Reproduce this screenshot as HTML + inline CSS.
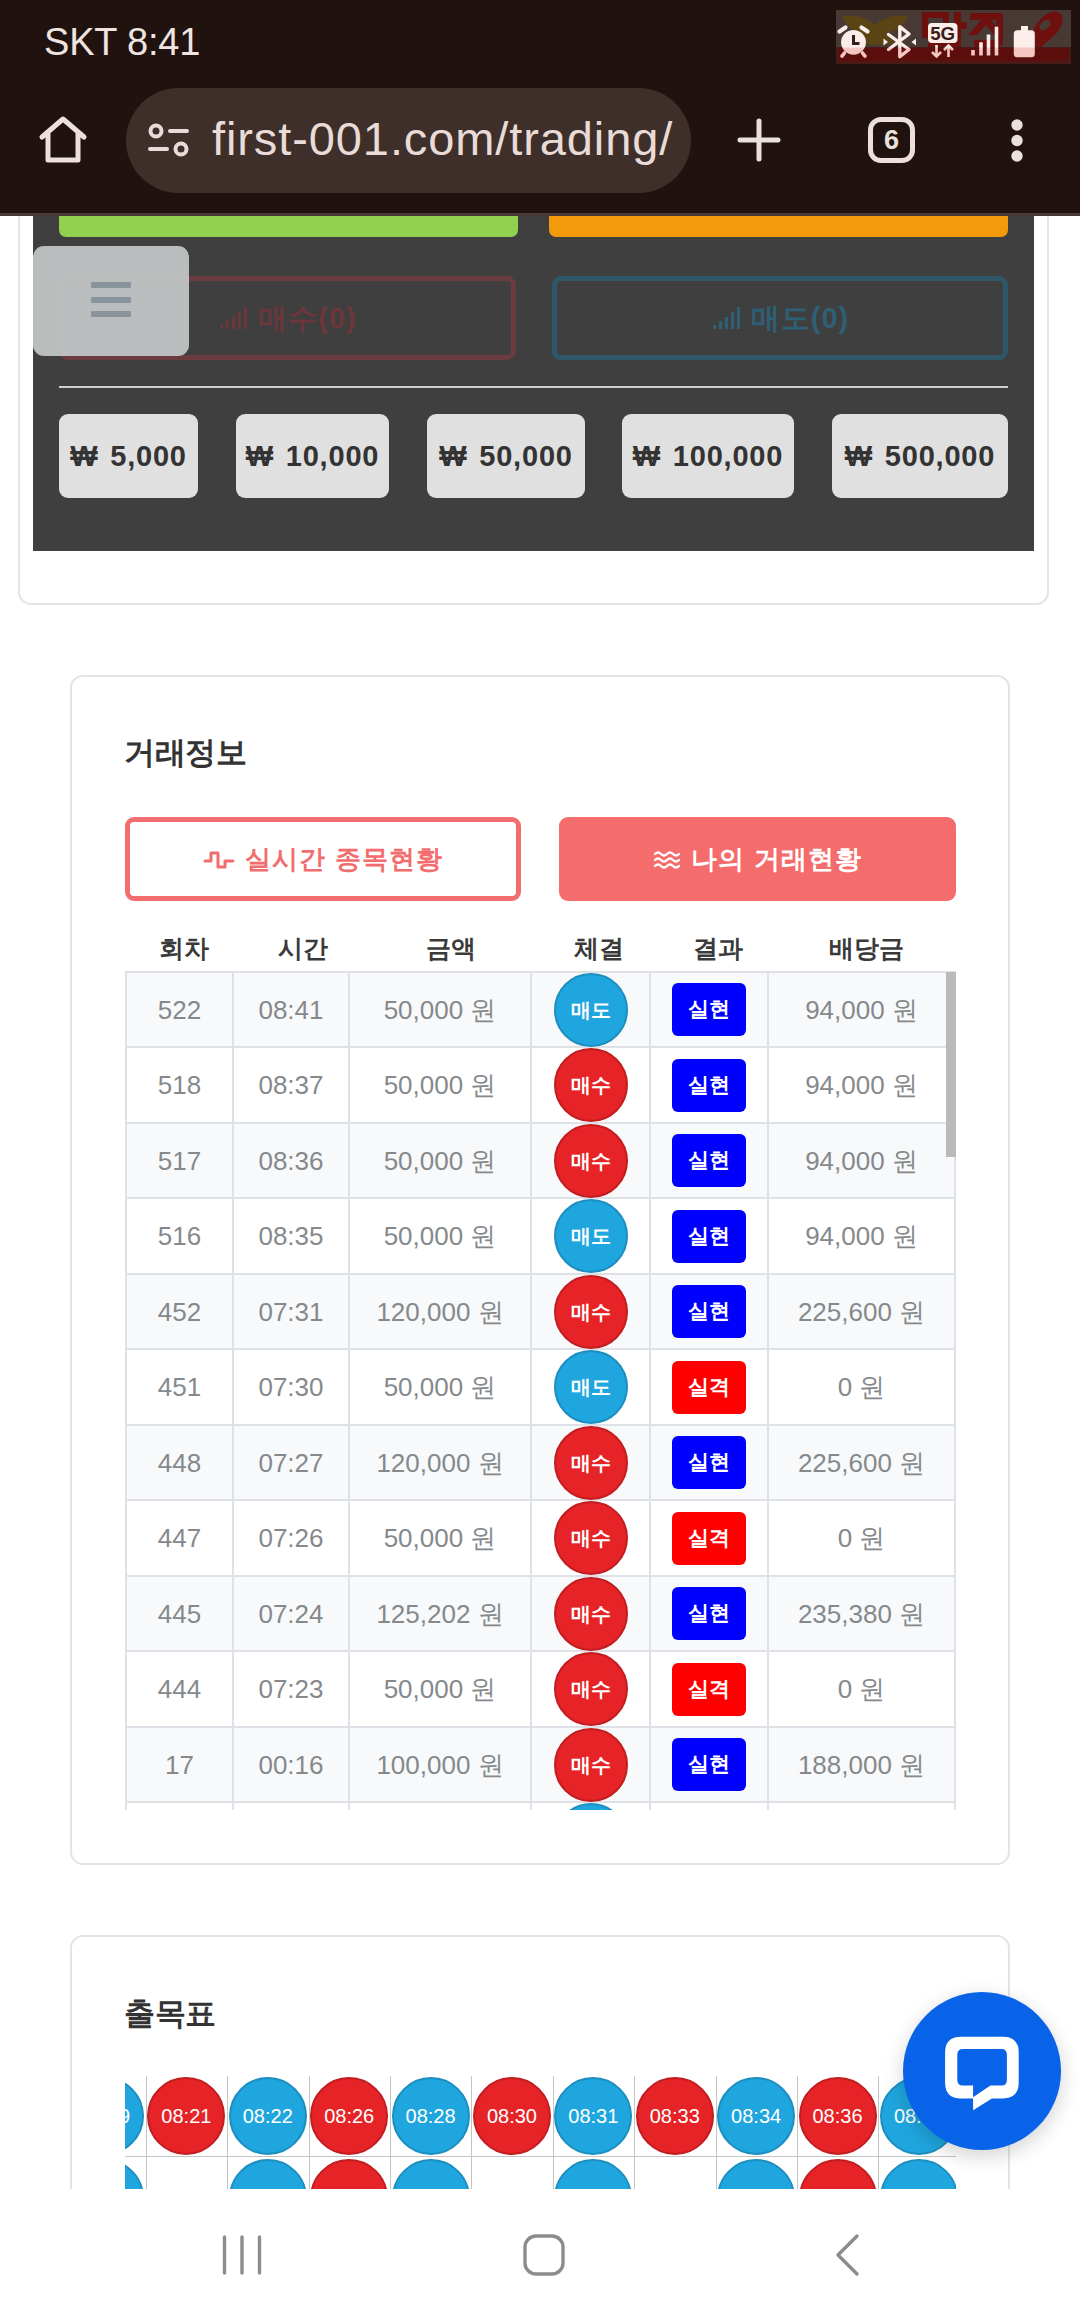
<!DOCTYPE html>
<html lang="ko">
<head>
<meta charset="utf-8">
<title>first-001.com/trading/</title>
<style>
*{box-sizing:border-box;margin:0;padding:0}
html,body{width:1080px;height:2316px;overflow:hidden;background:#fff}
body{position:relative;font-family:"Liberation Sans",sans-serif;color:#333}
.abs{position:absolute}
/* ---------- browser chrome ---------- */
#chrome{position:absolute;left:0;top:0;width:1080px;height:216px;background:#1f120f;border-bottom:3px solid #483936;z-index:20}
#clock{position:absolute;left:44px;top:19px;font-size:38px;line-height:46px;color:#efe4e0;letter-spacing:-0.2px}
#pill{position:absolute;left:126px;top:88px;width:565px;height:105px;border-radius:53px;background:#3f2f2b}
#url{position:absolute;left:212px;top:110px;font-size:47px;line-height:58px;color:#e9dcd8;white-space:nowrap;letter-spacing:0.9px}
#tabn{position:absolute;left:868px;top:117px;width:47px;height:46px;border:5px solid #ece0dc;border-radius:13px;color:#ece0dc;font-weight:bold;font-size:27px;line-height:36px;text-align:center}
#wm{position:absolute;left:836px;top:10px;width:235px;height:54px;overflow:hidden}
/* ---------- page ---------- */
#page{position:absolute;left:0;top:215px;width:1080px;height:1974px;overflow:hidden;background:#fff}
.card{position:absolute;border:2px solid #e4e4e4;border-radius:13px;background:#fff}
#panel{position:absolute;left:33px;top:-20px;width:1001px;height:356px;background:#3f3f3f}
.amt{position:absolute;top:199px;height:84px;border-radius:9px;background:#e0e0e0;color:#333;font-weight:bold;font-size:29px;line-height:84px;text-align:center;white-space:nowrap;letter-spacing:0.8px;word-spacing:3px}
.obtn{position:absolute;top:81px;height:84px;border:5px solid;border-radius:9px;font-weight:bold;font-size:29px;line-height:74px;text-align:center;letter-spacing:1px}
#ham{position:absolute;left:33px;top:31px;width:156px;height:110px;border-radius:11px;background:rgba(196,199,199,.93)}
#ham i{position:absolute;left:58px;width:40px;height:6px;border-radius:1px;background:#8a949c}
h2{position:absolute;font-size:31px;line-height:40px;font-weight:bold;color:#333;letter-spacing:-0.5px}
.tbtn{position:absolute;top:602px;height:84px;border-radius:9px;font-weight:bold;font-size:26px;line-height:84px;text-align:center;letter-spacing:1px}
.th{position:absolute;top:715px;width:140px;margin-left:-70px;text-align:center;font-size:25px;line-height:36px;color:#3a3a3a;font-weight:600}
#tw{position:absolute;left:125px;top:756px;width:831px;height:839px;overflow:hidden}
table{border-collapse:collapse;table-layout:fixed;width:829px}
td{height:75px;box-sizing:border-box;border:2px solid #dee2e6;text-align:center;vertical-align:middle;font-size:26px;line-height:30px;color:#85898c;padding:0;white-space:nowrap}
tr:nth-child(odd) td{background:#f8f9fa}
tr:nth-child(even) td{height:76px}
.cir{position:relative;top:0;display:block;margin:-1px auto;width:74px;height:74px;border-radius:50%;color:#fff;font-weight:bold;font-size:20px;line-height:70px;vertical-align:middle;border:2px solid}
.sell{background:#1fa6de;border-color:#1c8ec0}
.buy{background:#e62326;border-color:#c21d20}
.bdg{position:relative;top:0;display:block;margin:0 auto;width:74px;height:53px;border-radius:6px;color:#fff;font-weight:bold;font-size:21px;line-height:51px;vertical-align:middle}
.win{background:#0000ff}.lose{background:#ff0000}
#sb{position:absolute;left:946px;top:757px;width:10px;height:185px;background:#bababa}
#gw{position:absolute;left:125px;top:1860.5px;width:831px;height:130px;overflow:hidden}
.grow{position:absolute;left:-59.5px;height:81.5px;width:900px;display:flex}
.gc{width:81.4px;height:81.5px;flex:none;border-right:1px solid #c4c4c4;border-bottom:1px solid #c4c4c4;position:relative}
.gcir{position:absolute;left:0.5px;top:1.5px;width:78px;height:78px;border-radius:50%;border-width:2px;border-style:solid;color:#fff;font-size:20px;line-height:74px;text-align:center}
#chat{position:absolute;left:903px;top:1777px;width:158px;height:158px;border-radius:50%;background:#0863e8;box-shadow:0 6px 20px rgba(0,0,0,.18)}
/* ---------- android nav ---------- */
#nav{position:absolute;left:0;top:2189px;width:1080px;height:127px;background:#fff;z-index:20}
</style>
</head>
<body>

<div id="page">
  <!-- card 1 (top part scrolled away) -->
  <div class="card" style="left:18px;top:-40px;width:1031px;height:430px"></div>
  <div id="panel">
    <div class="abs" style="left:26px;top:0;width:459px;height:42px;background:#92d050;border-radius:0 0 7px 7px"></div>
    <div class="abs" style="left:516px;top:0;width:459px;height:42px;background:#f39a0b;border-radius:0 0 7px 7px"></div>
    <div class="obtn" style="left:26px;width:457px;border-color:#6a3c3f;color:#6c373b;"><svg width="30" height="24" viewBox="0 0 30 24" style="vertical-align:-2px;margin-right:10px"><g fill="#6c373b"><rect x="2" y="19" width="3" height="4"/><rect x="8" y="15" width="3" height="8"/><rect x="14" y="11" width="3" height="12"/><rect x="20" y="6" width="3" height="17"/><rect x="26" y="1" width="3" height="22"/></g></svg>매수(0)</div>
    <div class="obtn" style="left:519px;width:456px;border-color:#2e586a;color:#2e5f75;"><svg width="30" height="24" viewBox="0 0 30 24" style="vertical-align:-2px;margin-right:10px"><g fill="#2e5f75"><rect x="2" y="19" width="3" height="4"/><rect x="8" y="15" width="3" height="8"/><rect x="14" y="11" width="3" height="12"/><rect x="20" y="6" width="3" height="17"/><rect x="26" y="1" width="3" height="22"/></g></svg>매도(0)</div>
    <div class="abs" style="left:26px;top:191px;width:949px;height:2px;background:#cfcfcf"></div>
  </div>
  <div class="amt" style="left:59px;width:139px">₩ 5,000</div>
  <div class="amt" style="left:236px;width:153px">₩ 10,000</div>
  <div class="amt" style="left:427px;width:158px">₩ 50,000</div>
  <div class="amt" style="left:622px;width:172px">₩ 100,000</div>
  <div class="amt" style="left:832px;width:176px">₩ 500,000</div>
  <div id="ham"><i style="top:36px"></i><i style="top:51px"></i><i style="top:65px"></i></div>

  <!-- card 2 : trade info -->
  <div class="card" style="left:70px;top:460px;width:940px;height:1190px"></div>
  <h2 style="left:124px;top:518px">거래정보</h2>
  <div class="tbtn" style="left:125px;width:396px;border:5px solid #f26d6d;color:#f26d6d;line-height:74px"><svg width="32" height="24" viewBox="0 0 32 24" style="vertical-align:-4px;margin-right:10px"><path d="M2 13h6V5h7v14h7v-6h8" fill="none" stroke="#f26d6d" stroke-width="3" stroke-linejoin="round" stroke-linecap="round"/></svg>실시간 종목현황</div>
  <div class="tbtn" style="left:559px;width:397px;background:#f56c6c;color:#fff"><svg width="28" height="22" viewBox="0 0 28 22" style="vertical-align:-3px;margin-right:10px"><g fill="none" stroke="#fff" stroke-width="2.4" stroke-linecap="round"><path d="M2 5q3-3 6 0t6 0 6 0 6 0"/><path d="M2 11q3-3 6 0t6 0 6 0 6 0"/><path d="M2 17q3-3 6 0t6 0 6 0 6 0"/></g></svg>나의 거래현황</div>

  <div class="th" style="left:184px">회차</div>
  <div class="th" style="left:303px">시간</div>
  <div class="th" style="left:451px">금액</div>
  <div class="th" style="left:599px">체결</div>
  <div class="th" style="left:718px">결과</div>
  <div class="th" style="left:866px">배당금</div>

  <div id="tw">
    <table>
      <colgroup><col style="width:107px"><col style="width:116px"><col style="width:182px"><col style="width:119px"><col style="width:118px"><col style="width:187px"></colgroup>
<tr><td>522</td><td>08:41</td><td>50,000 원</td><td class="cc"><span class="cir sell">매도</span></td><td><span class="bdg win">실현</span></td><td>94,000 원</td></tr>
<tr><td>518</td><td>08:37</td><td>50,000 원</td><td class="cc"><span class="cir buy">매수</span></td><td><span class="bdg win">실현</span></td><td>94,000 원</td></tr>
<tr><td>517</td><td>08:36</td><td>50,000 원</td><td class="cc"><span class="cir buy">매수</span></td><td><span class="bdg win">실현</span></td><td>94,000 원</td></tr>
<tr><td>516</td><td>08:35</td><td>50,000 원</td><td class="cc"><span class="cir sell">매도</span></td><td><span class="bdg win">실현</span></td><td>94,000 원</td></tr>
<tr><td>452</td><td>07:31</td><td>120,000 원</td><td class="cc"><span class="cir buy">매수</span></td><td><span class="bdg win">실현</span></td><td>225,600 원</td></tr>
<tr><td>451</td><td>07:30</td><td>50,000 원</td><td class="cc"><span class="cir sell">매도</span></td><td><span class="bdg lose">실격</span></td><td>0 원</td></tr>
<tr><td>448</td><td>07:27</td><td>120,000 원</td><td class="cc"><span class="cir buy">매수</span></td><td><span class="bdg win">실현</span></td><td>225,600 원</td></tr>
<tr><td>447</td><td>07:26</td><td>50,000 원</td><td class="cc"><span class="cir buy">매수</span></td><td><span class="bdg lose">실격</span></td><td>0 원</td></tr>
<tr><td>445</td><td>07:24</td><td>125,202 원</td><td class="cc"><span class="cir buy">매수</span></td><td><span class="bdg win">실현</span></td><td>235,380 원</td></tr>
<tr><td>444</td><td>07:23</td><td>50,000 원</td><td class="cc"><span class="cir buy">매수</span></td><td><span class="bdg lose">실격</span></td><td>0 원</td></tr>
<tr><td>17</td><td>00:16</td><td>100,000 원</td><td class="cc"><span class="cir buy">매수</span></td><td><span class="bdg win">실현</span></td><td>188,000 원</td></tr>
<tr><td>16</td><td>00:15</td><td>50,000 원</td><td class="cc"><span class="cir sell">매도</span></td><td><span class="bdg win">실현</span></td><td>94,000 원</td></tr>
    </table>
  </div>
  <div id="sb"></div>

  <!-- card 3 : history grid -->
  <div class="card" style="left:70px;top:1720px;width:940px;height:400px"></div>
  <h2 style="left:124px;top:1779px">출목표</h2>
  <div id="gw">
    <div class="grow" style="top:0"><div class="gc"><span class="gcir sell">08:19</span></div><div class="gc"><span class="gcir buy">08:21</span></div><div class="gc"><span class="gcir sell">08:22</span></div><div class="gc"><span class="gcir buy">08:26</span></div><div class="gc"><span class="gcir sell">08:28</span></div><div class="gc"><span class="gcir buy">08:30</span></div><div class="gc"><span class="gcir sell">08:31</span></div><div class="gc"><span class="gcir buy">08:33</span></div><div class="gc"><span class="gcir sell">08:34</span></div><div class="gc"><span class="gcir buy">08:36</span></div><div class="gc"><span class="gcir sell">08:37</span></div></div>
    <div class="grow" style="top:81.5px"><div class="gc"><span class="gcir sell">08:20</span></div><div class="gc"></div><div class="gc"><span class="gcir sell">08:23</span></div><div class="gc"><span class="gcir buy">08:27</span></div><div class="gc"><span class="gcir sell">08:29</span></div><div class="gc"></div><div class="gc"><span class="gcir sell">08:32</span></div><div class="gc"></div><div class="gc"><span class="gcir sell">08:35</span></div><div class="gc"><span class="gcir buy">08:38</span></div><div class="gc"><span class="gcir sell">08:39</span></div></div>
  </div>

  <div id="chat"><svg width="158" height="158" viewBox="0 0 158 158"><path d="M58 44.7H100Q115.700 44.7 115.700 60.500V90.500Q115.700 106.500 100 106.500H89L70.100 118.300V106.500H58Q42.100 106.500 42.100 90.500V60.500Q42.100 44.700 58 44.700Z" fill="#fff"/><path d="M60 56.900H98.500Q103.900 56.900 103.900 62.500V88Q103.900 93.500 98.500 93.500H87.400L70.100 105.300V93.500H60Q54.300 93.500 54.300 88V62.500Q54.300 56.900 60 56.900Z" fill="#0863e8"/></svg></div>
</div>

<!-- browser chrome -->
<div id="chrome">
  <div id="clock">SKT 8:41</div>
  <div id="wm">
    <svg width="235" height="54" viewBox="0 0 235 54">
      <rect width="235" height="54" fill="#483935"/>
      <path d="M6 6q20-3 33 9q13-12 33-9q-5 13-20 17q4 6 8 11l-21 1l-21-1q4-5 8-11q-15-4-20-17z" fill="#5a4414"/>
      <path d="M86 2h27v26H86zM92 8v14h15V8z M118 2h7v10h6v7h-6v16h-7z M92 31h33v7H92z M134 3h30v7h-9l12 15h-9l-8-10l-9 10h-9l13-15h-11z M160 3h7v32h-7z M138 30h26v8h-26z" fill="#6e100e"/>
      <path d="M222 2q10 6-2 22l-18 16q-12 4-22 0q10-4 14-12q6-16 14-22q8-6 14-4z" fill="#6e100e"/>
      <ellipse cx="209" cy="15" rx="6.500" ry="4.200" fill="#483935" transform="rotate(-42 209 15)"/>
      <rect x="0" y="37" width="235" height="17" fill="#4a1a17"/>
      <rect x="2" y="38" width="231" height="13" rx="5" fill="#5c0e0c"/>
    </svg>
  </div>
  <svg class="abs" style="left:830px;top:5px" width="250" height="65" viewBox="0 0 250 65">
    <defs><linearGradient id="ig" gradientUnits="userSpaceOnUse" x1="0" y1="0" x2="0" y2="65"><stop offset="0" stop-color="#faedea"/><stop offset="0.64" stop-color="#faedea"/><stop offset="0.67" stop-color="#f4c6c1"/><stop offset="1" stop-color="#f4c6c1"/></linearGradient></defs>
    <circle cx="23.500" cy="37.300" r="12.400" fill="url(#ig)"/>
    <path d="M9.500 26.500L15.500 22.500M37.500 26.500L31.500 22.500" fill="none" stroke="url(#ig)" stroke-width="4.200" stroke-linecap="round"/>
    <path d="M14.500 48L12 51.200M32.500 48L35 51.200" fill="none" stroke="#f4c6c1" stroke-width="3.600" stroke-linecap="round"/>
    <path d="M23.500 30v8.500h6" fill="none" stroke="#33201c" stroke-width="3"/>
    <path d="M58.500 29.500L79 44.500L69.800 51.700V21.700L79 29L58.500 44.500" fill="none" stroke="url(#ig)" stroke-width="3.400" stroke-linejoin="round" stroke-linecap="round"/>
    <path d="M53.500 33.500l4.500 3.500l-4.500 3.500zM86 33.500l-4.500 3.500l4.500 3.500z" fill="url(#ig)"/>
    <rect x="98" y="18" width="29.500" height="20" rx="4" fill="url(#ig)"/>
    <text x="112.700" y="35" font-family="Liberation Sans, sans-serif" font-weight="bold" font-size="19" text-anchor="middle" fill="#3a1a18" textLength="25" lengthAdjust="spacingAndGlyphs">5G</text>
    <path d="M106.500 40v11.500m-4.500-4.500l4.500 4.500l4.500-4.500M118.500 52V40.500m-4.500 4.500l4.500-4.500l4.500 4.500" fill="none" stroke="url(#ig)" stroke-width="2.600"/>
    <g fill="url(#ig)"><rect x="141.200" y="45" width="3.600" height="5.500"/><rect x="149.200" y="37.300" width="3.600" height="13.200"/><rect x="156.700" y="29.500" width="3.600" height="21"/><rect x="164.700" y="21.700" width="3.600" height="28.800"/></g>
    <path d="M191 21h7v4.300h3.300q3.500 0 3.500 3.500v20q0 3.500-3.500 3.500h-14q-3.500 0-3.500-3.500v-20q0-3.500 3.500-3.500H191z" fill="url(#ig)"/>
  </svg>
  <div id="pill"></div>
  <svg class="abs" style="left:36px;top:112px" width="56" height="56" viewBox="0 0 56 56"><path d="M6 25L27 7l21 18M12 21v27h30V21" fill="none" stroke="#ece0dc" stroke-width="5" stroke-linecap="round" stroke-linejoin="round"/></svg>
  <svg class="abs" style="left:146px;top:122px" width="46" height="36" viewBox="0 0 46 36"><g fill="none" stroke="#e9dcd8" stroke-width="4" stroke-linecap="round"><circle cx="10" cy="9" r="5.5"/><path d="M24 9h17"/><circle cx="35" cy="27" r="5.5"/><path d="M4 27h17"/></g></svg>
  <div id="url">first-001.com/trading/</div>
  <svg class="abs" style="left:736px;top:117px" width="46" height="46" viewBox="0 0 46 46"><path d="M23 4v38M4 23h38" stroke="#ece0dc" stroke-width="5" stroke-linecap="round"/></svg>
  <div id="tabn">6</div>
  <svg class="abs" style="left:1008px;top:116px" width="18" height="50" viewBox="0 0 18 50"><g fill="#ece0dc"><circle cx="9" cy="9" r="5.7"/><circle cx="9" cy="24.5" r="5.7"/><circle cx="9" cy="40" r="5.7"/></g></svg>
</div>

<!-- android nav -->
<div id="nav">
  <svg class="abs" style="left:0;top:0" width="1080" height="127" viewBox="0 0 1080 127"><g fill="none" stroke="#8c8c8c" stroke-width="3.4" stroke-linecap="round"><path d="M224.5 48v36M242 48v36M259.5 48v36"/><rect x="525" y="47" width="38" height="38" rx="11"/><path d="M857 47L838 66l19 19" stroke-linejoin="round"/></g></svg>
</div>

</body>
</html>
